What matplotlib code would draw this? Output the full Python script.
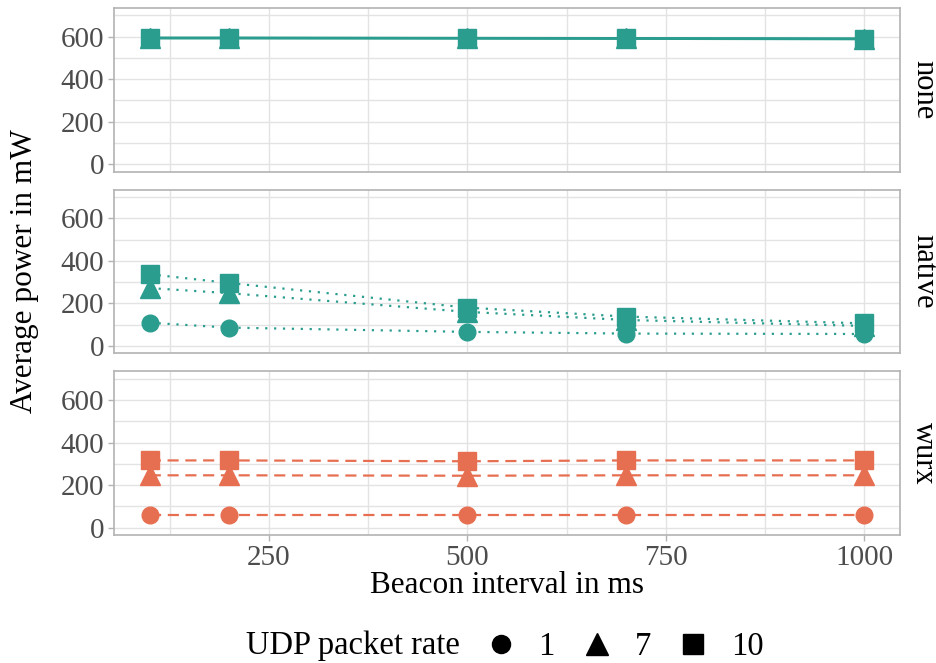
import matplotlib.pyplot as plt
from matplotlib.lines import Line2D

plt.rcParams['font.family'] = ['Liberation Serif', 'DejaVu Serif']

# data
beacon_ms = [100, 200, 500, 700, 1000]
rates = ['1', '7', '10']
modes = ['none', 'native', 'wurx']

power = {
    'none': {
        '1': [592, 592, 591, 590, 588],
        '7': [594, 594, 593, 592, 590],
        '10': [595, 595, 594, 593, 591],
    },
    'native': {
        '1': [109, 86, 66, 58, 56],
        '7': [272, 248, 160, 122, 94],
        '10': [337, 296, 180, 138, 106],
    },
    'wurx': {
        '1': [58, 58, 58, 58, 58],
        '7': [246, 246, 244, 246, 246],
        '10': [316, 316, 312, 316, 316],
    },
}

colors = {'none': '#2A9D8F', 'native': '#2A9D8F', 'wurx': '#E76F51'}
styles = {'none': '-', 'native': (0, (1, 3)), 'wurx': (0, (5, 3))}
markers = {'1': 'o', '7': '^', '10': 's'}
msizes = {'1': 12, '7': 15, '10': 13}

fig, axes = plt.subplots(3, 1, sharex=True, figsize=(9.37, 6.63), dpi=100)
fig.subplots_adjust(left=0.1217, right=0.9605, top=0.988, bottom=0.193, hspace=0.11)

grid_col = '#E3E3E3'
fs = 21
for ax, mode in zip(axes, modes):
    for r in rates:
        ax.plot(beacon_ms, power[mode][r], color=colors[mode], linestyle=styles[mode],
                linewidth=1.6, marker=markers[r], markersize=msizes[r], zorder=3)
    ax.set_ylim(-35, 735)
    ax.set_xlim(55, 1045)
    ax.set_yticks([0, 200, 400, 600])
    ax.set_yticks([100, 300, 500, 700], minor=True)
    ax.set_xticks([250, 500, 750, 1000])
    ax.set_xticks([125, 375, 625, 875], minor=True)
    ax.grid(True, which='both', color=grid_col, linewidth=1.0, zorder=0)
    ax.set_axisbelow(True)
    for s in ax.spines.values():
        s.set_color('#B3B3B3')
        s.set_linewidth(1.2)
    ax.tick_params(axis='both', which='major', labelsize=fs, labelcolor='#4D4D4D',
                   color='#B3B3B3', length=4, width=1, pad=3)
    ax.tick_params(axis='both', which='minor', length=0)
    ax.text(1.012, 0.5, mode, transform=ax.transAxes, rotation=-90,
            ha='left', va='center', fontsize=22)

axes[0].tick_params(axis='x', length=0)
axes[1].tick_params(axis='x', length=0)
axes[2].set_xlabel('Beacon interval in ms', fontsize=22.5, labelpad=0)
fig.text(0.026, (0.988 + 0.193) / 2, 'Average power in mW', rotation=90,
         ha='center', va='center', fontsize=22.5)

fig.text(246 / 937, 1 - 646 / 663, 'UDP packet rate', ha='left', va='center', fontsize=23.5)
handles = [Line2D([], [], color='black', linestyle='none', marker=markers[r],
                  markersize=msizes[r] + 1) for r in rates]
fig.legend(handles, rates, loc='center left', bbox_to_anchor=(481 / 937, 1 - 647 / 663), ncol=3,
           frameon=False, fontsize=23.5, handletextpad=0.55, columnspacing=0.7,
           handlelength=1.2, borderpad=0, borderaxespad=0)

plt.savefig('out.png', dpi=100)
